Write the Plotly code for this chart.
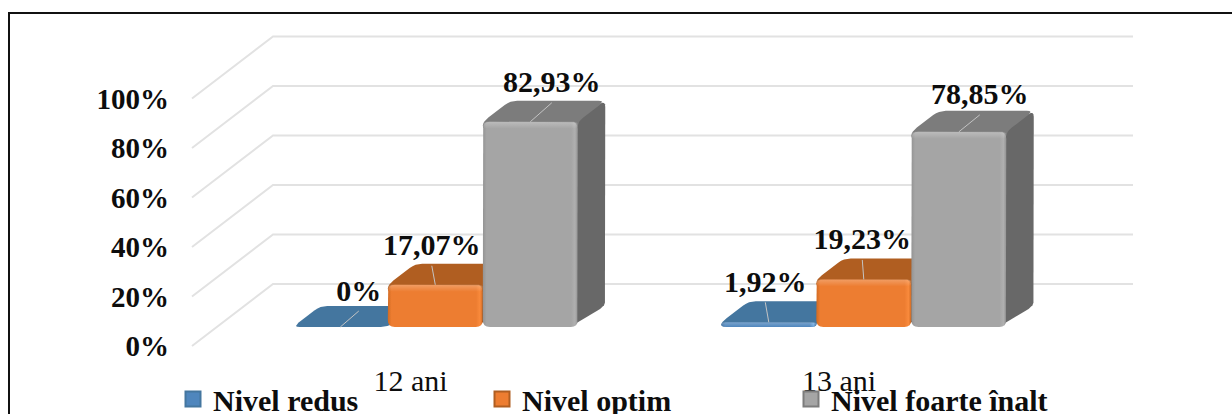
import plotly.graph_objects as go

# === Date ===

ages = ["12 ani", "13 ani"]
series_names = ["Nivel redus", "Nivel optim", "Nivel foarte înalt"]
nivel_redus = [0, 1.92]
nivel_optim = [17.07, 19.23]
nivel_foarte_inalt = [82.93, 78.85]
value_labels = [["0%", "1,92%"], ["17,07%", "19,23%"], ["82,93%", "78,85%"]]
y_ticks = [0, 20, 40, 60, 80, 100]
y_tick_labels = ["0%", "20%", "40%", "60%", "80%", "100%"]

# === Stil ===

W, H = 1232, 414
M_LEFT, M_BOTTOM = 170, 54
PX_X = 428.5  # px per category
PX_Y = 2.475  # px per percent
X_RANGE = [(M_LEFT - 410.5) / PX_X, (W - 410.5) / PX_X]
Y_RANGE = [(346 - (H - M_BOTTOM)) / PX_Y, 346 / PX_Y]

# oblique 3D projection: depth 0 = front of floor, depth 1 = back wall
DX = 81 / PX_X
DY = 62 / PX_Y
D_FRONT = 0.306
D_BACK = 0.645
BAR_W = 95 / PX_X
WALL_X = [(192 - 410.5) / PX_X, (1052 - 410.5) / PX_X]

FRONT = ["#4f86bd", "#ed7d31", "#a5a5a5"]
FRONT_EDGE = ["#3f6f9f", "#d06a22", "#939393"]
FRONT_LIGHT = ["#6ba6de", "#f98a3c", "#b0b0b0"]
TOP = ["#44769f", "#b05e21", "#7c7c7c"]
SIDE = ["#325a7c", "#8f4d1b", "#686868"]
FONT = "Liberation Serif"

# label offsets from the middle of the bar's front top edge, px
LABEL_SHIFT = [[(18.5, -34), (-3.5, -38)], [(-3.5, -37), (-1.5, -37.5)], [(21.5, -37), (21, -35)]]


def project(x, v, d):
    return x + d * DX, v + d * DY


def rounded(pts, r=5):
    # cut each corner of a polygon with a small curve, r in px
    scaled = [(x * PX_X, y * PX_Y) for x, y in pts]
    out = []
    n = len(scaled)
    for i in range(n):
        px, py = scaled[i - 1]
        cx, cy = scaled[i]
        nx, ny = scaled[(i + 1) % n]
        d1 = max(((px - cx) ** 2 + (py - cy) ** 2) ** 0.5, 0.01)
        d2 = max(((nx - cx) ** 2 + (ny - cy) ** 2) ** 0.5, 0.01)
        r1 = min(r, d1 / 2) / d1
        r2 = min(r, d2 / 2) / d2
        a = (cx + (px - cx) * r1, cy + (py - cy) * r1)
        b = (cx + (nx - cx) * r2, cy + (ny - cy) * r2)
        for t in [0, 0.25, 0.5, 0.75, 1]:
            out.append(((1 - t) ** 2 * a[0] + 2 * t * (1 - t) * cx + t ** 2 * b[0],
                        (1 - t) ** 2 * a[1] + 2 * t * (1 - t) * cy + t ** 2 * b[1]))
    out.append(out[0])
    return [p[0] / PX_X for p in out], [p[1] / PX_Y for p in out]


def add_face(fig, pts, color, r=5, gradient=None):
    xs, ys = rounded(pts, r)
    kw = dict(fillgradient=gradient) if gradient else dict(fillcolor=color)
    fig.add_trace(go.Scatter(x=xs, y=ys, mode="lines", fill="toself", line=dict(width=0),
                             showlegend=False, hoverinfo="skip", **kw))


fig = go.Figure()

# pereti si linii de grila
for tick in y_ticks:
    x0, y0 = project(WALL_X[0], tick, 0)
    x1, y1 = project(WALL_X[0], tick, 1)
    x2, y2 = project(WALL_X[1], tick, 1)
    fig.add_trace(go.Scatter(x=[x0, x1, x2], y=[y0, y1, y2], mode="lines",
                             line=dict(color="#e2e2e2", width=2), showlegend=False, hoverinfo="skip"))

# bare
series = [nivel_redus, nivel_optim, nivel_foarte_inalt]
for s, values in enumerate(series):
    for c, v in enumerate(values):
        left = c + (s - 1.5) * BAR_W
        right = left + BAR_W
        fl = project(left, v, D_FRONT)
        fr = project(right, v, D_FRONT)
        bl = project(left, v, D_BACK)
        br = project(right, v, D_BACK)
        base_r = project(right, 0, D_FRONT)
        base_l = project(left, 0, D_FRONT)
        back_r = project(right, 0, D_BACK)
        if v > 0:
            # faces run a little under the front face so its rounded corners leave no gap
            tuck = 8 / PX_X
            add_face(fig, [(base_r[0] - tuck, base_r[1]), (fr[0] - tuck, fr[1]), br, back_r], SIDE[s], r=6)
            sink = min(8 / PX_Y, v)
            add_face(fig, [(fl[0], fl[1] - sink), (fr[0], fr[1] - sink), fr, br, bl, fl], TOP[s], r=7)
            grad = dict(type="horizontal", colorscale=[[0, FRONT_EDGE[s]], [0.04, FRONT[s]], [0.93, FRONT[s]],
                                                       [0.97, FRONT_LIGHT[s]], [1, FRONT_EDGE[s]]])
            add_face(fig, [base_l, fl, fr, base_r], FRONT[s], r=7, gradient=grad)
            # light band along the top edge of the front face
            band = min(7 / PX_Y, v)
            strip_grad = dict(type="vertical", colorscale=[[0, "rgba(255,255,255,0)"], [1, "rgba(255,255,255,0.25)"]])
            add_face(fig, [project(left, v - band, D_FRONT), fl, fr, project(right, v - band, D_FRONT)],
                     None, r=4, gradient=strip_grad)
        else:
            add_face(fig, [fl, fr, br, bl], TOP[s], r=7)

# etichete si linii de legatura
for s, values in enumerate(series):
    for c, v in enumerate(values):
        sx, sy = project(c + (s - 1) * BAR_W, v, D_FRONT)
        dx, dy = LABEL_SHIFT[s][c]
        lx, ly = sx + dx / PX_X, sy - dy / PX_Y
        fig.add_trace(go.Scatter(x=[sx, lx], y=[sy, ly - 18 / PX_Y], mode="lines",
                                 line=dict(color="#c4c4c4", width=1), showlegend=False, hoverinfo="skip"))
        fig.add_trace(go.Scatter(x=[lx], y=[ly], mode="text", text=[value_labels[s][c]], textposition="middle center",
                                 textfont=dict(family=FONT, size=30, color="#0d0d0d", weight="bold"),
                                 showlegend=False, hoverinfo="skip"))

# legenda
for s, name in enumerate(series_names):
    fig.add_trace(go.Scatter(x=[None], y=[None], mode="markers", name=name,
                             marker=dict(symbol="square", size=15, color=FRONT[s], line=dict(color=TOP[s], width=2))))

fig.update_layout(
    width=W, height=H,
    margin=dict(l=M_LEFT, r=0, t=0, b=M_BOTTOM, autoexpand=False),
    paper_bgcolor="white", plot_bgcolor="white",
    xaxis=dict(range=X_RANGE, tickmode="array", tickvals=[0, 1], ticktext=ages, showgrid=False, zeroline=False,
               showline=False, ticks="", tickfont=dict(family=FONT, size=30, color="#0d0d0d")),
    yaxis=dict(range=Y_RANGE, tickmode="array", tickvals=y_ticks, ticktext=y_tick_labels, showgrid=False,
               zeroline=False, showline=False, ticks="",
               tickfont=dict(family=FONT, size=29, color="#0d0d0d", weight="bold")),
    legend=dict(orientation="h", xref="container", yref="container", x=173 / W, y=1 - 373 / H,
                xanchor="left", yanchor="top", entrywidth=264, entrywidthmode="pixels", itemwidth=30,
                font=dict(family=FONT, size=30, color="#0d0d0d", weight="bold"), bgcolor="rgba(0,0,0,0)"),
    shapes=[dict(type="rect", xref="paper", yref="paper",
                 x0=(9 - M_LEFT) / (W - M_LEFT), x1=(1245 - M_LEFT) / (W - M_LEFT),
                 y0=(H - M_BOTTOM - 430) / (H - M_BOTTOM), y1=(H - M_BOTTOM - 13) / (H - M_BOTTOM),
                 line=dict(color="#111111", width=2))],
)

fig.write_html("out.html", config=dict(displayModeBar=False), post_script="document.body.style.margin='0';")
